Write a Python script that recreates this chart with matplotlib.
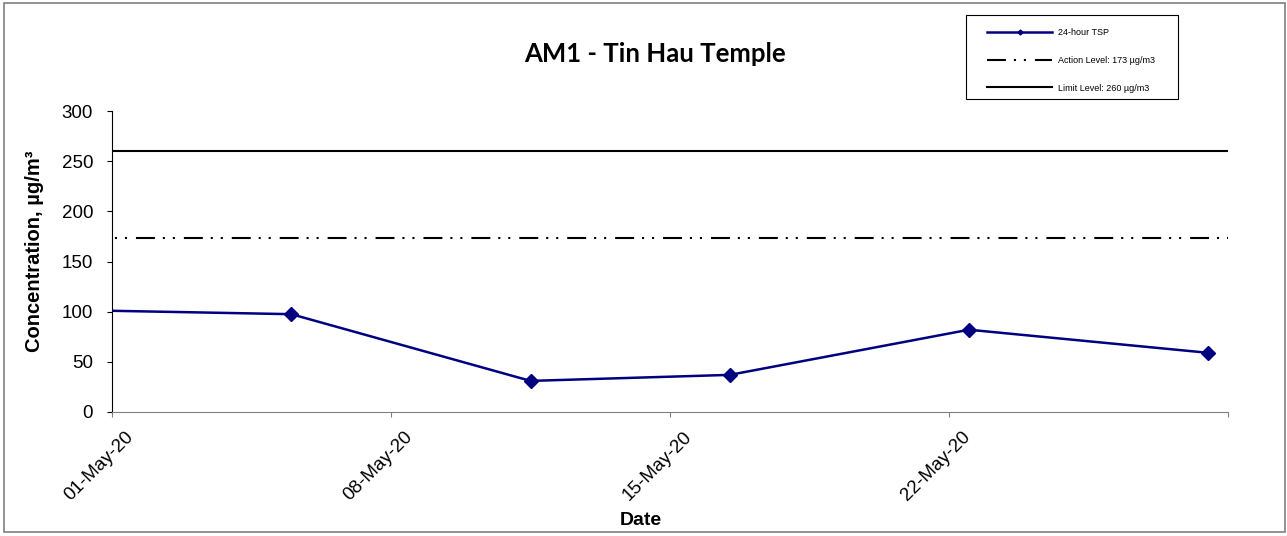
import matplotlib
matplotlib.use("Agg")
import matplotlib.pyplot as plt
import matplotlib.transforms as mtransforms
from matplotlib.patches import Rectangle
from matplotlib.lines import Line2D
import pandas as pd

plt.rcParams['font.family'] = ['Liberation Sans', 'DejaVu Sans']

# 24-hour TSP samples (first one lies before the axis start and is clipped)
dates = pd.to_datetime(["2020-04-29 12:00", "2020-05-05 12:00", "2020-05-11 12:00",
                        "2020-05-16 12:00", "2020-05-22 12:00", "2020-05-28 12:00"])
tsp = [102, 97.5, 31, 37, 82, 59]
action_level = 173
limit_level = 260
tick_dates = pd.to_datetime(["2020-05-01", "2020-05-08", "2020-05-15", "2020-05-22", "2020-05-29"])
tick_labels = ["01-May-20", "08-May-20", "15-May-20", "22-May-20", ""]
x_min = pd.Timestamp("2020-05-01")
x_max = pd.Timestamp("2020-05-29")

W, H = 1287, 536
fig = plt.figure(figsize=(W / 100, H / 100), dpi=100)
ax = fig.add_axes([112 / W, 1 - 412 / H, (1228 - 112) / W, (412 - 111) / H])

# outer chart frame
fig.patches.append(Rectangle((4 / W, 1 - 532 / H), 1281 / W, 529 / H, transform=fig.transFigure,
                             fill=False, edgecolor="#808080", linewidth=1.2))

navy = "#000080"
dash_seq = (9.1, 3.8, 1.0, 3.8, 1.0, 4.3)  # dash-dot-dot, in linewidth units

ax.plot(dates, tsp, color=navy, linewidth=1.8, marker="D", markersize=6.8)
ax.plot([x_min, x_max], [action_level, action_level], color="black", linewidth=1.5,
        linestyle=(11.5, dash_seq))
ax.plot([x_min, x_max], [limit_level, limit_level], color="black", linewidth=1.5)

ax.set_xlim(x_min, x_max)
ax.set_ylim(0, 300)
ax.set_yticks(range(0, 301, 50))
ax.set_xticks(tick_dates)
ax.set_xticklabels(tick_labels, rotation=45, ha="right", va="top", rotation_mode="anchor")
ax.tick_params(axis="both", labelsize=13.5, direction="out", length=3.6)
ax.tick_params(axis="y", pad=10)
ax.tick_params(axis="x", pad=8, colors="#808080", labelcolor="black")
shift = mtransforms.ScaledTranslation(0.13, 0, fig.dpi_scale_trans)
for lbl in ax.get_xticklabels():
    lbl.set_transform(lbl.get_transform() + shift)

for s in ["top", "right"]:
    ax.spines[s].set_visible(False)
ax.spines["bottom"].set_color("#808080")
ax.spines["left"].set_color("black")

fig.text(655 / W, 1 - 54 / H, "AM1 - Tin Hau Temple", fontsize=18.5, fontweight="bold",
         family=["Lato", "Liberation Sans"], ha="center", va="center")
ax.set_xlabel("Date", fontsize=14, fontweight="bold")
ax.xaxis.set_label_coords((641 - 112) / 1116, (412 - 512) / 301)
ax.set_ylabel("Concentration, µg/m³", fontsize=14.5, fontweight="bold")
ax.yaxis.set_label_coords((44 - 112) / 1116, (412 - 251) / 301)

# legend, outside the plot area at the top right
handles = [
    Line2D([], [], color=navy, linewidth=1.8, marker="D", markersize=2.5),
    Line2D([], [], color="black", linewidth=1.5, linestyle=(0, dash_seq)),
    Line2D([], [], color="black", linewidth=1.5),
]
labels = ["24-hour TSP", "Action Level: 173 µg/m3", "Limit Level: 260 µg/m3"]
fig.legend(handles, labels, loc="upper left", bbox_to_anchor=(987 / W, 1 - 28 / H),
           fontsize=6.5, frameon=False, borderpad=0, borderaxespad=0,
           handlelength=7.2, handletextpad=0.67, labelspacing=2.08)
fig.patches.append(Rectangle((966 / W, 1 - 99 / H), 212 / W, 84 / H, transform=fig.transFigure,
                             fill=False, edgecolor="black", linewidth=0.8))

fig.savefig("out.png", dpi=100)
